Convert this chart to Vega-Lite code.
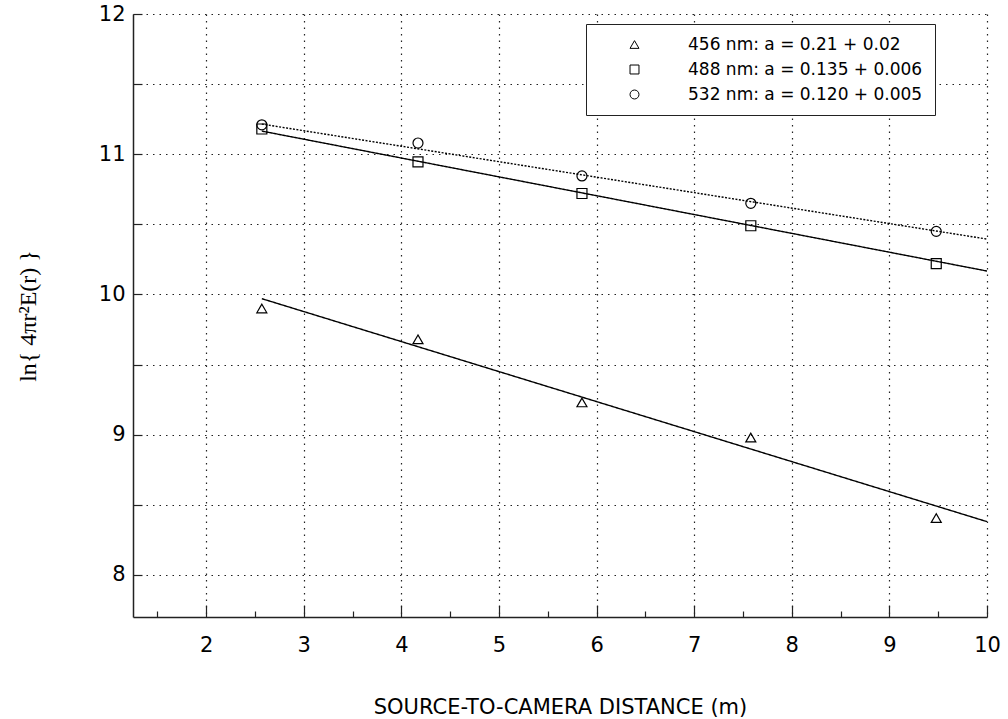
{
  "$schema": "https://vega.github.io/schema/vega-lite/v6.json",
  "width": 854,
  "height": 603,
  "autosize": {"type": "none"},
  "padding": {"left": 133, "top": 14, "right": 21, "bottom": 102},
  "background": "white",
  "config": {
    "view": {"stroke": null},
    "font": "DejaVu Sans"
  },
  "datasets": {
    "points": [
      {"series": "456 nm: a = 0.21 + 0.02", "distance": 2.57, "value": 9.90},
      {"series": "456 nm: a = 0.21 + 0.02", "distance": 4.17, "value": 9.68},
      {"series": "456 nm: a = 0.21 + 0.02", "distance": 5.85, "value": 9.23},
      {"series": "456 nm: a = 0.21 + 0.02", "distance": 7.58, "value": 8.98},
      {"series": "456 nm: a = 0.21 + 0.02", "distance": 9.48, "value": 8.405},
      {"series": "488 nm: a = 0.135 + 0.006", "distance": 2.57, "value": 11.18},
      {"series": "488 nm: a = 0.135 + 0.006", "distance": 4.17, "value": 10.945},
      {"series": "488 nm: a = 0.135 + 0.006", "distance": 5.85, "value": 10.72},
      {"series": "488 nm: a = 0.135 + 0.006", "distance": 7.58, "value": 10.49},
      {"series": "488 nm: a = 0.135 + 0.006", "distance": 9.48, "value": 10.22},
      {"series": "532 nm: a = 0.120 + 0.005", "distance": 2.57, "value": 11.21},
      {"series": "532 nm: a = 0.120 + 0.005", "distance": 4.17, "value": 11.08},
      {"series": "532 nm: a = 0.120 + 0.005", "distance": 5.85, "value": 10.845},
      {"series": "532 nm: a = 0.120 + 0.005", "distance": 7.58, "value": 10.65},
      {"series": "532 nm: a = 0.120 + 0.005", "distance": 9.48, "value": 10.45}
    ],
    "fits": [
      {"fit": "456", "distance": 2.57, "value": 9.97},
      {"fit": "456", "distance": 10, "value": 8.38},
      {"fit": "488", "distance": 2.57, "value": 11.165},
      {"fit": "488", "distance": 10, "value": 10.167},
      {"fit": "532", "distance": 2.57, "value": 11.215},
      {"fit": "532", "distance": 10, "value": 10.395}
    ]
  },
  "encoding": {
    "x": {
      "field": "distance",
      "type": "quantitative",
      "scale": {"domain": [1.25, 10], "nice": false, "zero": false},
      "axis": {
        "title": "SOURCE-TO-CAMERA DISTANCE (m)",
        "titleFont": "DejaVu Sans",
        "titleFontSize": 21,
        "titleFontWeight": "normal",
        "titleColor": "black",
        "titlePadding": 35,
        "values": [1.5, 2, 2.5, 3, 3.5, 4, 4.5, 5, 5.5, 6, 6.5, 7, 7.5, 8, 8.5, 9, 9.5, 10],
        "format": "~g",
        "labelExpr": "datum.value % 1 === 0 ? datum.label : ''",
        "labelFontSize": 21,
        "labelColor": "black",
        "labelPadding": 29,
        "labelFlush": false,
        "labelOverlap": false,
        "domainColor": "#222",
        "domainWidth": 1.5,
        "tickColor": "#222",
        "tickWidth": 1.2,
        "tickSize": {"condition": {"test": "datum.value % 1 === 0", "value": -12}, "value": -6},
        "grid": true,
        "gridColor": "#222",
        "gridWidth": 1.2,
        "gridDash": [1.5, 5],
        "gridOpacity": {"condition": {"test": "datum.value % 1 === 0", "value": 1}, "value": 0}
      }
    },
    "y": {
      "field": "value",
      "type": "quantitative",
      "scale": {"domain": [7.7, 12], "nice": false, "zero": false},
      "axis": {
        "title": "ln{ 4πr²E(r) }",
        "titleFont": "Liberation Serif",
        "titleFontSize": 24,
        "titleFontWeight": "normal",
        "titleColor": "black",
        "titlePadding": 58,
        "values": [8, 8.5, 9, 9.5, 10, 10.5, 11, 11.5, 12],
        "format": "~g",
        "labelExpr": "datum.value % 1 === 0 ? datum.label : ''",
        "labelFontSize": 21,
        "labelColor": "black",
        "labelPadding": 17,
        "labelFlush": false,
        "labelOverlap": false,
        "domainColor": "#222",
        "domainWidth": 1.5,
        "tickColor": "#222",
        "tickWidth": 1.2,
        "tickSize": -9,
        "grid": true,
        "gridColor": "#222",
        "gridWidth": 1.2,
        "gridDash": [1.5, 5]
      }
    }
  },
  "layer": [
    {
      "data": {"name": "fits"},
      "mark": {"type": "line", "color": "black", "strokeWidth": 1.4},
      "encoding": {
        "detail": {"field": "fit", "type": "nominal"},
        "strokeDash": {
          "field": "fit",
          "type": "nominal",
          "scale": {"domain": ["456", "488", "532"], "range": [[1, 0], [1, 0], [2, 1.5]]},
          "legend": null
        },
        "opacity": {
          "field": "fit",
          "type": "nominal",
          "scale": {"domain": ["456", "488", "532"], "range": [1, 1, 0.6]},
          "legend": null
        }
      }
    },
    {
      "data": {"name": "points"},
      "mark": {"type": "point", "filled": false, "color": "black", "strokeWidth": 1.2, "size": 100, "opacity": 1},
      "encoding": {
        "shape": {
          "field": "series",
          "type": "nominal",
          "scale": {
            "domain": ["456 nm: a = 0.21 + 0.02", "488 nm: a = 0.135 + 0.006", "532 nm: a = 0.120 + 0.005"],
            "range": ["triangle-up", "square", "circle"]
          },
          "legend": {
            "title": null,
            "orient": "none",
            "legendX": 453,
            "legendY": 10,
            "strokeColor": "#222",
            "fillColor": "white",
            "padding": 12,
            "symbolOffset": 28,
            "labelOffset": 45,
            "labelFont": "DejaVu Sans",
            "labelFontSize": 17,
            "labelColor": "black",
            "labelLimit": 400,
            "rowPadding": 7,
            "symbolSize": 80,
            "symbolStrokeColor": "black",
            "symbolStrokeWidth": 1,
            "symbolFillColor": "white"
          }
        }
      }
    }
  ]
}
